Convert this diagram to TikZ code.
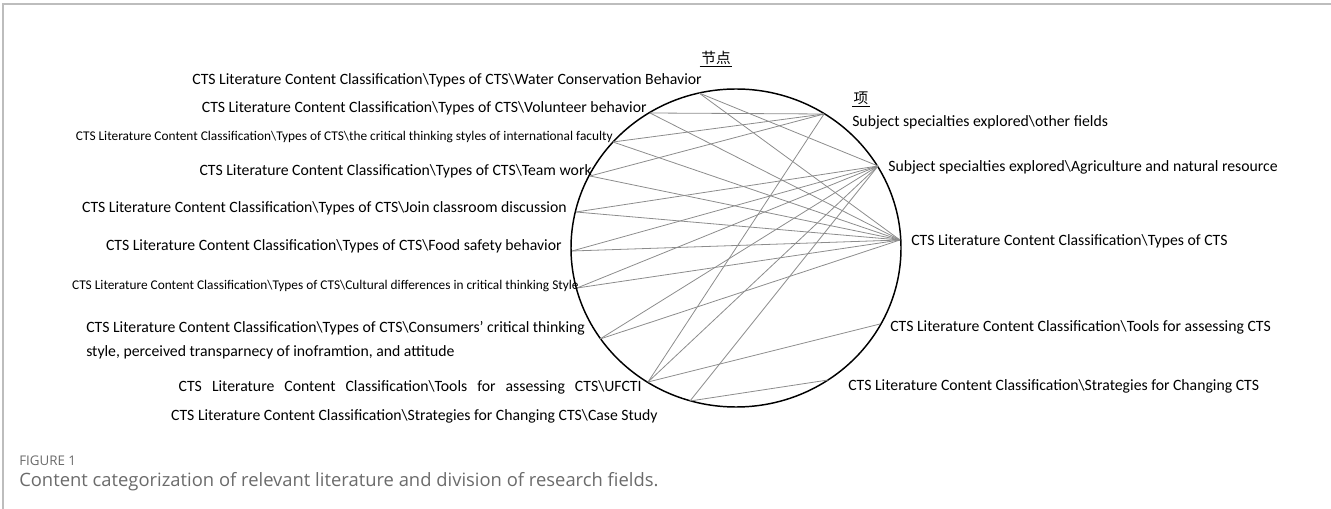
\documentclass[tikz,border=0pt]{standalone}
\usepackage{fontspec}
\setmainfont{Carlito}
\newfontfamily\cjk{Noto Sans CJK SC}
\newfontfamily\capfont{Open Sans}
\usetikzlibrary{positioning}

\definecolor{linkgray}{HTML}{8C8C8C}
\definecolor{framegray}{HTML}{BDBDBD}
\definecolor{capgray}{HTML}{6B6B6B}

\begin{document}
\begin{tikzpicture}[x=0.75pt, y=-0.75pt,
    lbl/.style={inner sep=0pt, font=\fontsize{11.8}{13}\selectfont},
    small/.style={inner sep=0pt, font=\fontsize{10}{12}\selectfont},
    link/.style={draw=linkgray, line width=0.6pt}]
    \useasboundingbox (0,0) rectangle (1331,509);

    % frame of the figure
    \draw[framegray, line width=2pt] (2,4) -- (1331,4);
    \draw[framegray, line width=0.8pt] (3,4) -- (3,509);

    % the ring
    \draw[line width=1.1pt] (736,248) ellipse [x radius=165, y radius=159];

    % points on the ring
    \coordinate (water) at (699,93);
    \coordinate (volunteer) at (650,113);
    \coordinate (faculty) at (613,142);
    \coordinate (teamwork) at (590,176);
    \coordinate (classroom) at (576,212);
    \coordinate (food) at (572,251);
    \coordinate (cultural) at (577,288);
    \coordinate (consumers) at (600,339);
    \coordinate (ufcti) at (648,382);
    \coordinate (casestudy) at (690,401);

    \coordinate (other) at (824,114);
    \coordinate (agri) at (878,166);
    \coordinate (types) at (900,240);
    \coordinate (tools) at (880,324);
    \coordinate (strategies) at (828,380);

    \foreach \a/\b in {water/agri, water/types, volunteer/other, volunteer/types,
        faculty/other, faculty/types, teamwork/other, teamwork/types,
        classroom/agri, classroom/types, food/agri, food/types,
        cultural/agri, cultural/types, consumers/agri, consumers/types,
        ufcti/other, ufcti/agri, ufcti/tools, casestudy/agri, casestudy/strategies}
        \draw[link] (\a) -- (\b);

    % headings
    \node[inner sep=1pt, font=\cjk\fontsize{11}{12}\selectfont] (nodehead) at (716,58) {节点};
    \draw[line width=0.5pt] (nodehead.south west) -- (nodehead.south east);
    \node[inner sep=1pt, font=\cjk\fontsize{11}{12}\selectfont, anchor=west] (itemhead) at (852,98) {项};
    \draw[line width=0.5pt] (itemhead.south west) -- (itemhead.south east);

    % left labels
    \node[lbl, anchor=east] (lwater) at (702,80) {CTS Literature Content Classification\textbackslash Types of CTS\textbackslash Water Conservation Behavior};
    \node[lbl, anchor=east] (lvolunteer) at (647,108) {CTS Literature Content Classification\textbackslash Types of CTS\textbackslash Volunteer behavior};
    \node[small, anchor=east] (lfaculty) at (613,137) {CTS Literature Content Classification\textbackslash Types of CTS\textbackslash the critical thinking styles of international faculty};
    \node[lbl, anchor=east] (lteamwork) at (592,171) {CTS Literature Content Classification\textbackslash Types of CTS\textbackslash Team work};
    \node[lbl, anchor=east] (lclassroom) at (567,208) {CTS Literature Content Classification\textbackslash Types of CTS\textbackslash Join classroom discussion};
    \node[lbl, anchor=east] (lfood) at (562,246) {CTS Literature Content Classification\textbackslash Types of CTS\textbackslash Food safety behavior};
    \node[small, anchor=east] (lcultural) at (579,286) {CTS Literature Content Classification\textbackslash Types of CTS\textbackslash Cultural differences in critical thinking Style};
    \node[lbl, anchor=west, align=left, font=\fontsize{11.8}{18}\selectfont] (lconsumers) at (86,340) {CTS Literature Content Classification\textbackslash Types of CTS\textbackslash Consumers’ critical thinking\\style, perceived transparnecy of inoframtion, and attitude};
    \node[lbl, anchor=east] (lufcti) at (642,387) {\spaceskip=0.64em CTS Literature Content Classification\textbackslash Tools for assessing CTS\textbackslash UFCTI};
    \node[lbl, anchor=east] (lcasestudy) at (658,416) {CTS Literature Content Classification\textbackslash Strategies for Changing CTS\textbackslash Case Study};

    % right labels
    \node[lbl, anchor=west] (lother) at (852,122) {Subject specialties explored\textbackslash other fields};
    \node[lbl, anchor=west] (lagri) at (888,167) {Subject specialties explored\textbackslash Agriculture and natural resource};
    \node[lbl, anchor=west] (ltypes) at (911,241) {CTS Literature Content Classification\textbackslash Types of CTS};
    \node[lbl, anchor=west] (ltools) at (890,327) {CTS Literature Content Classification\textbackslash Tools for assessing CTS};
    \node[lbl, anchor=west] (lstrategies) at (848,386) {CTS Literature Content Classification\textbackslash Strategies for Changing CTS};

    % caption
    \node[inner sep=0pt, anchor=west, text=capgray, font=\capfont\fontsize{10}{11}\selectfont] (figno) at (19,461) {FIGURE 1};
    \node[inner sep=0pt, anchor=west, text=capgray, font=\capfont\fontsize{13.8}{15}\selectfont] (caption) at (19,482) {Content categorization of relevant literature and division of research fields.};
\end{tikzpicture}
\end{document}
